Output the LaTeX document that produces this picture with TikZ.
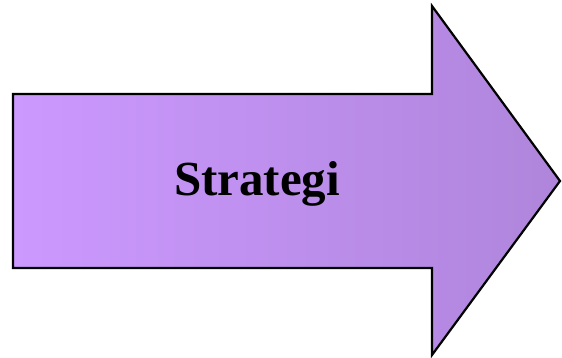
\documentclass[tikz,border=0pt]{standalone}
\usepackage{fontspec}
\setmainfont{Liberation Serif}
\definecolor{leftc}{HTML}{CC99FF}
\definecolor{rightc}{HTML}{AF85DB}
\tikzset{bigarrow/.style={draw=black,line width=2.2pt,line join=miter,left color=leftc,right color=rightc}}
\begin{document}
\begin{tikzpicture}[x=1pt,y=-1pt]
\useasboundingbox (0,0) rectangle (562,358);
\filldraw[bigarrow] (13,94) -- (432,94) -- (432,6) -- (560,181) -- (432,355) -- (432,268) -- (13,268) -- cycle;
\node[font=\fontsize{49}{56}\selectfont\bfseries] (label) at (257,184) {Strategi};
\end{tikzpicture}
\end{document}
